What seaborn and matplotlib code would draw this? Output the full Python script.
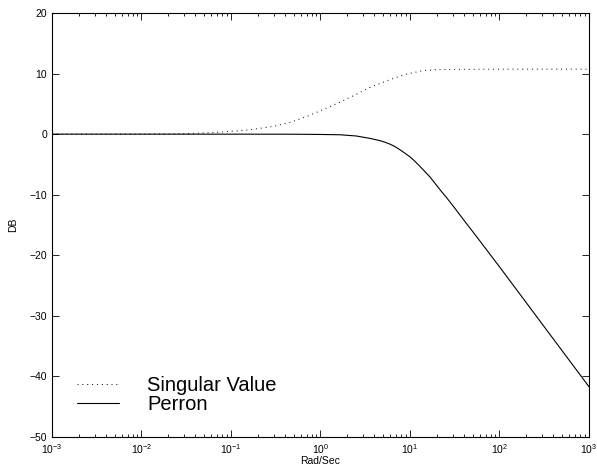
import numpy as np
import pandas as pd
import seaborn as sns
import matplotlib.pyplot as plt
from matplotlib.ticker import LogLocator, NullFormatter, LogFormatterSciNotation

sv_freq = [1e-3, 3e-3, 1e-2, 0.029, 0.069, 0.163, 0.3, 0.456, 0.7, 1.07, 1.6,
           2.53, 3.8, 5.98, 9.0, 14.1, 20.0, 30.0, 100.0, 1000.0]
sv_db = [0.0, 0.003, 0.01, 0.07, 0.28, 0.72, 1.3, 1.93, 2.9, 4.07, 5.2,
         6.6, 7.9, 9.0, 9.9, 10.5, 10.65, 10.7, 10.73, 10.73]

perron_freq = [1e-3, 1e-2, 1e-1, 0.5, 1.0, 1.65, 2.5, 3.0, 3.57, 4.2, 4.7, 5.3,
               5.98, 6.7, 7.5, 8.5, 10.0, 11.2, 12.6, 14.5, 16.8, 19.0, 22.0,
               26.0, 31.6, 40.0, 56.0, 100.0, 316.0, 1000.0]
perron_db = [0.0, 0.0, 0.0, -0.01, -0.05, -0.1, -0.3, -0.5, -0.7, -0.93, -1.1, -1.35,
             -1.65, -2.0, -2.45, -3.0, -3.75, -4.4, -5.15, -6.1, -7.1, -8.1, -9.3,
             -10.6, -12.2, -14.2, -17.0, -21.9, -31.8, -41.7]

sns.set_style("ticks")
plt.rcParams['font.family'] = ['Liberation Sans', 'DejaVu Sans']
plt.rcParams['mathtext.default'] = 'regular'
plt.rcParams['xtick.direction'] = 'in'
plt.rcParams['ytick.direction'] = 'in'
for key in ['text.color', 'axes.labelcolor', 'xtick.color', 'ytick.color', 'axes.edgecolor']:
    plt.rcParams[key] = 'black'

fig = plt.figure(figsize = (5.97, 4.70), dpi = 100)
ax = fig.add_axes([0.0871, 0.0702, 0.8995, 0.9021])

sv = pd.DataFrame({"freq": sv_freq, "db": sv_db})
pr = pd.DataFrame({"freq": perron_freq, "db": perron_db})

sns.lineplot(data = sv, x = "freq", y = "db", color = "black", lw = 0.7,
             ax = ax, label = "Singular Value")
sns.lineplot(data = pr, x = "freq", y = "db", color = "black", lw = 0.8,
             ax = ax, label = "Perron")
ax.lines[0].set_linestyle((0, (1, 4)))

ax.set_xscale("log")
ax.set_xlim(1e-3, 1e3)
ax.set_ylim(-50, 20)
ax.set_yticks([-50, -40, -30, -20, -10, 0, 10, 20])
ax.xaxis.set_major_locator(LogLocator(base = 10, numticks = 10))
ax.xaxis.set_minor_locator(LogLocator(base = 10, subs = np.arange(2, 10), numticks = 20))
ax.xaxis.set_minor_formatter(NullFormatter())
ax.xaxis.set_major_formatter(LogFormatterSciNotation())

ax.tick_params(which = "both", top = True, right = True, labelsize = 7.5, width = 0.6,
               color = "black", labelcolor = "black")
ax.tick_params(which = "major", length = 5)
ax.tick_params(which = "minor", length = 2.5)
for s in ax.spines.values():
    s.set_linewidth(0.8)
    s.set_color("black")

ax.set_xlabel("Rad/Sec", fontsize = 7.5, labelpad = 0)
ax.set_ylabel("DB", fontsize = 7.5, labelpad = 8)

leg = ax.legend(loc = "lower left", bbox_to_anchor = (0.012, 0.012), frameon = False,
                fontsize = 14.5, handlelength = 2.1, handletextpad = 1.4,
                labelspacing = 0.0, borderaxespad = 0.5)
for t in leg.get_texts():
    t.set_color("black")

fig.savefig("out.png", dpi = 100)
